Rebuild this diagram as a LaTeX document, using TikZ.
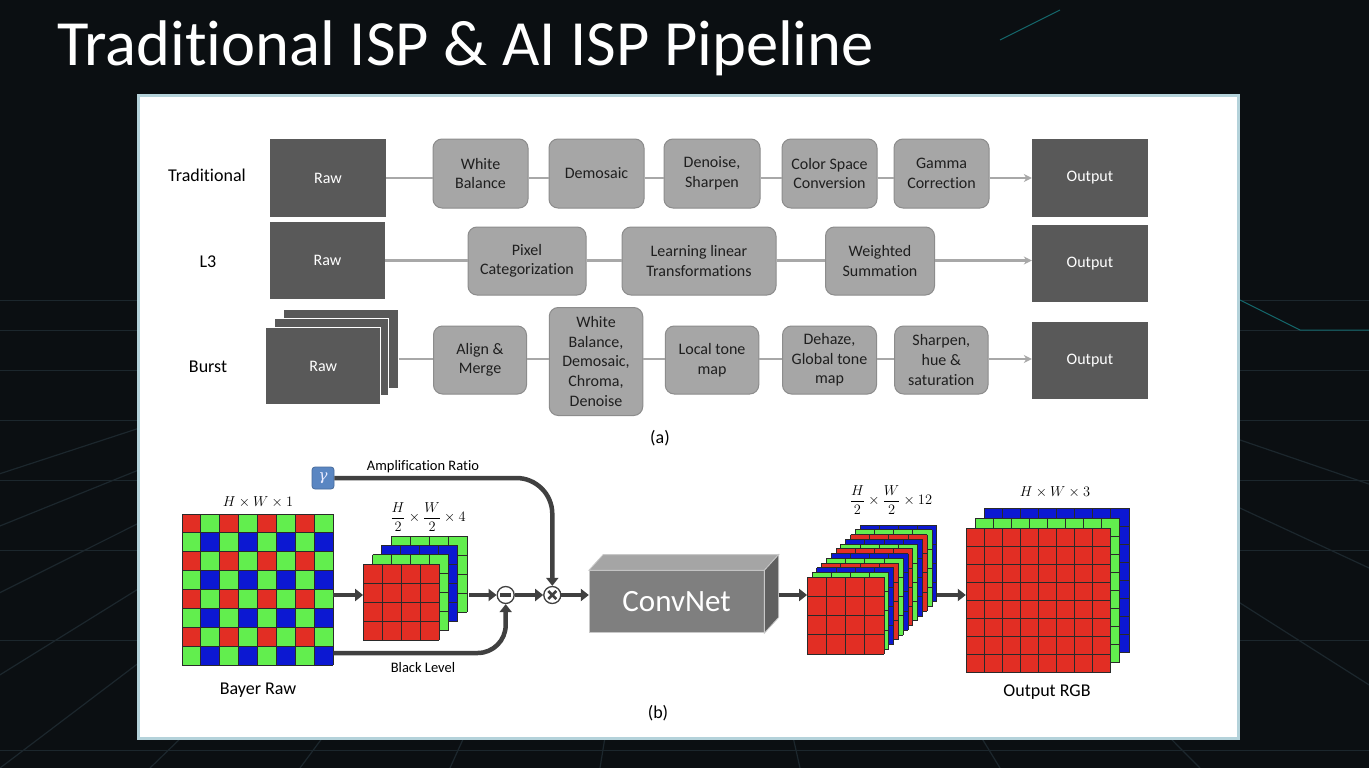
\documentclass[tikz,border=0pt]{standalone}
\usepackage{fontspec}
\setmainfont{Carlito}[RawFeature={-liga;-clig;-calt}]
\newfontfamily\greekserif{DejaVu Serif}
\usetikzlibrary{arrows.meta,calc}

\definecolor{bgdark}{HTML}{0B0F12}
\definecolor{bgline}{HTML}{1C272D}
\definecolor{panelborder}{HTML}{B4D2DA}
\definecolor{darkfill}{HTML}{595959}
\definecolor{procfill}{HTML}{A6A6A6}
\definecolor{procdraw}{HTML}{8C8C8C}
\definecolor{connline}{HTML}{A8A8A8}
\definecolor{thickarr}{HTML}{404040}
\definecolor{bred}{RGB}{226,46,36}
\definecolor{bgreen}{RGB}{98,238,78}
\definecolor{bblue}{RGB}{12,24,210}
\definecolor{gridline}{HTML}{2A2A2A}
\definecolor{gammablue}{HTML}{5A86C2}
\definecolor{cnfront}{HTML}{7F7F7F}
\definecolor{cntop}{HTML}{A5A5A5}
\definecolor{cnside}{HTML}{606060}
\definecolor{cnedge}{HTML}{C8C8C8}

\newcommand{\cellgrid}[5]{%
  \fill[#5] (#1,#2) rectangle ++({#4*#3},{#4*#3});
  \foreach \i in {0,...,#4} {
    \draw[gridline, line width=1pt] ({#1+\i*#3},#2) -- ++(0,{#4*#3});
    \draw[gridline, line width=1pt] (#1,{#2+\i*#3}) -- ++({#4*#3},0);
  }}

\tikzset{
  rawbox/.style={fill=darkfill, draw=none, text=white, inner sep=0pt,
    font=\fontsize{16}{19}\selectfont},
  procbox/.style={fill=procfill, draw=procdraw, line width=1pt, rounded corners=9pt,
    text=black!88, align=center, inner sep=0pt, font=\fontsize{16}{19.6}\selectfont},
  rowlabel/.style={text=black, font=\fontsize{18}{21}\selectfont},
  conn/.style={draw=connline, line width=2.5pt},
  connarr/.style={conn, -{Stealth[length=8pt,width=8pt]}},
  thk/.style={draw=thickarr, line width=4.5pt, -{Triangle[length=8pt,width=12pt]}},
  blab/.style={text=black, font=\fontsize{14.5}{17}\selectfont},
  mlab/.style={text=black, font=\fontsize{15.5}{18}\selectfont},
  capt/.style={text=black, font=\fontsize{18}{21}\selectfont},
  opcircle/.style={circle, draw=thickarr, line width=1.3pt, fill=white, minimum size=17pt, inner sep=0pt},
  hold/.style={inner sep=0pt, draw=none}
}

\begin{document}
\begin{tikzpicture}[x=1pt,y=-1pt]
\useasboundingbox (0,0) rectangle (1369,768);
% background
\fill[bgdark] (0,0) rectangle (1369,768);
\begin{scope}
\clip (0,0) rectangle (1369,768);
\foreach \bx in {-900,-600,-350,-150,0,150,300,450,600,800,1000,1200,1500,1800,2200}
  \draw[bgline, line width=1.2pt] (684,250) -- (\bx,768);
\foreach \hy in {300,330,370,420,480,550,640,750}
  \draw[bgline, line width=1pt] (0,\hy) -- (1369,\hy);
\draw[bgline!70!cyan, line width=1pt] (1000,40) -- (1060,10) (1240,300) -- (1300,330) -- (1369,330);
\end{scope}

% title
\node[anchor=base west, text=white, inner sep=0pt, font=\fontsize{64.5}{70}\selectfont] (title) at (57,66) {Traditional ISP \& AI ISP Pipeline};

% panel
\draw[panelborder, line width=3pt, fill=white] (138,96) rectangle (1238,738);

% ---------------- (a) ----------------
\node[rowlabel] (lbtrad) at (207,175) {Traditional};
\node[rowlabel] (lbl3) at (208,262) {L3};
\node[rowlabel] (lbburst) at (208,367) {Burst};

% Traditional
\node[rawbox, minimum width=116, minimum height=78] (traw) at (328,178) {Raw};
\node[procbox, minimum width=95, minimum height=69] (twb) at (480.5,173.5) {White\\Balance};
\node[procbox, minimum width=95, minimum height=69] (tdem) at (596.5,173.5) {Demosaic};
\node[procbox, minimum width=96, minimum height=69] (tden) at (712,173.5) {Denoise,\\Sharpen};
\node[procbox, minimum width=95, minimum height=69] (tcsc) at (829.5,173.5) {Color Space\\Conversion};
\node[procbox, minimum width=95, minimum height=69] (tgam) at (941.5,173.5) {Gamma\\Correction};
\node[rawbox, minimum width=116, minimum height=78] (tout) at (1090,178) {Output};
\draw[conn] (traw.east) -- (twb.west |- traw.east);
\draw[conn] (twb.east |- traw.east) -- (tdem.west |- traw.east);
\draw[conn] (tdem.east |- traw.east) -- (tden.west |- traw.east);
\draw[conn] (tden.east |- traw.east) -- (tcsc.west |- traw.east);
\draw[conn] (tcsc.east |- traw.east) -- (tgam.west |- traw.east);
\draw[connarr] (tgam.east |- traw.east) -- (tout.west);

% L3
\node[rawbox, minimum width=115, minimum height=77] (lraw) at (327.5,260.5) {Raw};
\node[procbox, minimum width=118, minimum height=68] (lpix) at (527,261) {Pixel\\Categorization};
\node[procbox, minimum width=154, minimum height=68] (llin) at (699,261) {Learning linear\\Transformations};
\node[procbox, minimum width=109, minimum height=68] (lwsum) at (880,261) {Weighted\\Summation};
\node[rawbox, minimum width=116, minimum height=77] (lout) at (1090,263.5) {Output};
\draw[conn] (lraw.east) -- (lpix.west |- lraw.east);
\draw[conn] (lpix.east |- lraw.east) -- (llin.west |- lraw.east);
\draw[conn] (llin.east |- lraw.east) -- (lwsum.west |- lraw.east);
\draw[connarr] (lwsum.east |- lraw.east) -- (lout.west |- lraw.east);

% Burst
\coordinate (by) at (0,359);
\node[rawbox, minimum width=114.8, minimum height=77.7] (braw3) at (340.9,348.9) {};
\node[rawbox, draw=white, line width=1pt, minimum width=114.8, minimum height=77] (braw2) at (331.4,356.5) {};
\node[rawbox, draw=white, line width=1pt, minimum width=115.5, minimum height=77.4] (braw) at (323.2,366) {Raw};
\node[procbox, minimum width=93, minimum height=68] (balign) at (480,360) {Align \&\\Merge};
\node[procbox, minimum width=93.5, minimum height=108] (bwb) at (596,361.5) {White\\Balance,\\Demosaic,\\Chroma,\\Denoise};
\node[procbox, minimum width=93.5, minimum height=68] (blocal) at (712,360) {Local tone\\map};
\node[procbox, minimum width=94, minimum height=68] (bdehaze) at (829.5,360) {Dehaze,\\Global tone\\map};
\node[procbox, minimum width=93.4, minimum height=68] (bsharp) at (941.3,360) {Sharpen,\\hue \&\\saturation};
\node[rawbox, minimum width=116, minimum height=77.6] (bout) at (1090,360.5) {Output};
\draw[conn] (braw3.east |- by) -- (balign.west |- by);
\draw[conn] (balign.east |- by) -- (bwb.west |- by);
\draw[conn] (bwb.east |- by) -- (blocal.west |- by);
\draw[conn] (blocal.east |- by) -- (bdehaze.west |- by);
\draw[conn] (bdehaze.east |- by) -- (bsharp.west |- by);
\draw[connarr] (bsharp.east |- by) -- (bout.west |- by);

\node[capt] (capa) at (660,438) {(a)};

% ---------------- (b) ----------------
\coordinate (ay) at (0,595);
\coordinate (bl) at (0,653);

% Bayer raw 8x8
\fill[bgreen] (182,514) rectangle ++(151.2,151.2);
\foreach \r in {0,2,4,6} {
  \foreach \c in {0,2,4,6} {
    \fill[bred] ({182+\c*18.9},{514+\r*18.9}) rectangle ++(18.9,18.9);
    \fill[bblue] ({182+(\c+1)*18.9},{514+(\r+1)*18.9}) rectangle ++(18.9,18.9);
  }}
\foreach \i in {0,...,8} {
  \draw[gridline, line width=1pt] ({182+\i*18.9},514) -- ++(0,151.2);
  \draw[gridline, line width=1pt] (182,{514+\i*18.9}) -- ++(151.2,0);
}
\node[hold, minimum width=151.2, minimum height=151.2] (bayer) at (257.6,589.6) {};
\node[mlab] (lblhw1) at (258,502) {$H\times W\times 1$};
\node[capt] (bayerlbl) at (258,690) {Bayer Raw};

% gamma
\node[fill=gammablue, draw=gammablue!80!black, line width=0.8pt, rounded corners=3pt,
  minimum width=22, minimum height=22, inner sep=0pt, text=white!92!blue,
  font=\greekserif\itshape\fontsize{15}{15}\selectfont] (gamma) at (323,478) {γ};
\node[blab] (amp) at (423,467) {Amplification Ratio};

% 4-channel stack
\cellgrid{363.3+27.9}{564-27.9}{19}{4}{bgreen}
\cellgrid{363.3+18.6}{564-18.6}{19}{4}{bblue}
\cellgrid{363.3+9.3}{564-9.3}{19}{4}{bgreen}
\cellgrid{363.3}{564}{19}{4}{bred}
\node[hold, minimum width=103.9, minimum height=103.9] (stack4) at (415.25,588.05) {};
\node[mlab] (lbl4) at (428,517) {$\displaystyle\frac{H}{2}\times\frac{W}{2}\times 4$};

% operators
\node[opcircle] (minus) at (505.7,595) {};
\fill[thickarr] ($(minus.center)+(-5.5,-1.8)$) rectangle ($(minus.center)+(5.5,1.8)$);
\node[opcircle] (times) at (552.3,595) {};
\draw[thickarr, line width=2.6pt] ($(times.center)+(-4,-4)$) -- ($(times.center)+(4,4)$)
  ($(times.center)+(-4,4)$) -- ($(times.center)+(4,-4)$);

% ConvNet block
\node[fill=cnfront, draw=cnedge, line width=0.8pt, minimum width=174.7, minimum height=62,
  inner sep=0pt, text=white, font=\fontsize{31}{31}\selectfont] (convnet) at (676.6,601.7) {ConvNet};
\filldraw[fill=cntop, draw=cnedge, line width=0.8pt] (convnet.north west) -- ++(14.3,-15.7)
  -- ($(convnet.north east)+(14.3,-15.7)$) -- (convnet.north east) -- cycle;
\filldraw[fill=cnside, draw=cnedge, line width=0.8pt] (convnet.north east) -- ++(14.3,-15.7)
  -- ($(convnet.south east)+(14.3,-15.7)$) -- (convnet.south east) -- cycle;
\coordinate (cnr) at ($(convnet.east)+(14.3,0)$);

% 12-channel stack
\foreach \k in {11,10,...,0} {
  \pgfmathtruncatemacro{\m}{mod(\k,3)}
  \ifcase\m \def\lcol{bred}\or\def\lcol{bgreen}\or\def\lcol{bblue}\fi
  \cellgrid{807.3+4.8*\k}{577.3-4.75*\k}{19.2}{4}{\lcol}
}
\node[hold, minimum width=129.5, minimum height=127.65] (stack12) at (872.05,588.9) {};
\node[mlab] (lbl12) at (891,500) {$\displaystyle\frac{H}{2}\times\frac{W}{2}\times 12$};

% output RGB
\cellgrid{966+18.6}{528.3-20}{18.05}{8}{bblue}
\cellgrid{966+9.3}{528.3-10}{18.05}{8}{bgreen}
\cellgrid{966}{528.3}{18.05}{8}{bred}
\node[hold, minimum width=163.6, minimum height=164.4] (rgb) at (1047.8,590.5) {};
\node[mlab] (lblhw3) at (1055,492) {$H\times W\times 3$};
\node[capt] (rgblbl) at (1047,692) {Output RGB};

% thick arrows
\draw[thk] (bayer.east |- ay) -- (stack4.west |- ay);
\draw[thk] ($(stack4.east |- ay)+(2,0)$) -- (minus.west);
\draw[thk] (minus.east) -- (times.west);
\draw[thk] (times.east) -- (convnet.west |- ay);
\draw[thk, rounded corners=36pt] (gamma.east) -| (times.north);
\draw[thk, rounded corners=28pt] (bayer.east |- bl) -| (minus.south);
\draw[thk] (cnr |- ay) -- (stack12.west |- ay);
\draw[thk] (stack12.east |- ay) -- (rgb.west |- ay);
\node[blab] (blk) at (423,668) {Black Level};

\node[capt] (capb) at (658,713) {(b)};
\end{tikzpicture}
\end{document}
